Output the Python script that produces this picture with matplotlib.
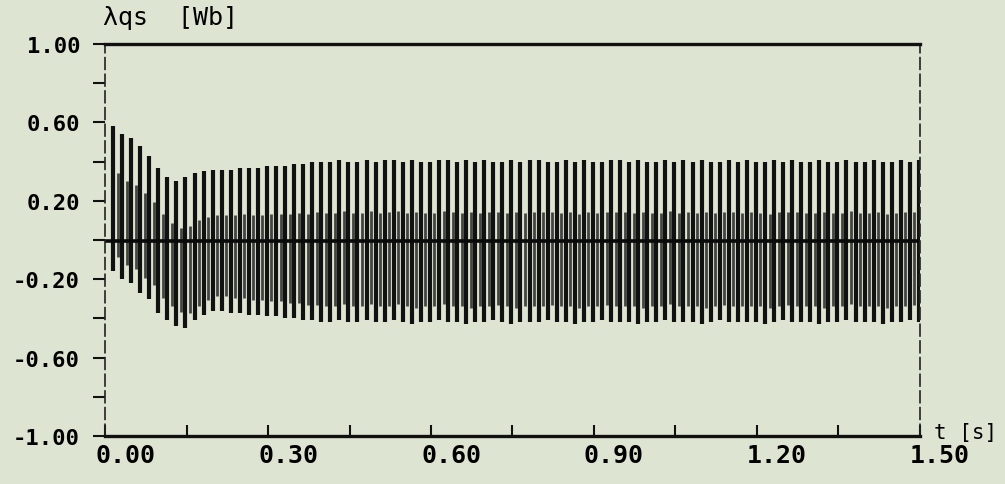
import numpy as np
import matplotlib
matplotlib.use("Agg")
import matplotlib.pyplot as plt
from matplotlib.transforms import ScaledTranslation

# peak values of each 60 Hz cycle
upper_peaks = [
    0.58, 0.54, 0.52, 0.48, 0.43, 0.37, 0.32, 0.30, 0.32, 0.34,
    0.35, 0.36, 0.36, 0.36, 0.37, 0.37, 0.37, 0.38, 0.38, 0.38,
    0.39, 0.39, 0.40, 0.40, 0.40, 0.41, 0.40, 0.40, 0.41, 0.40,
    0.41, 0.41, 0.40, 0.41, 0.40, 0.40, 0.41, 0.41, 0.40, 0.41,
    0.40, 0.41, 0.40, 0.40, 0.41, 0.40, 0.41, 0.41, 0.40, 0.40,
    0.41, 0.40, 0.41, 0.40, 0.40, 0.41, 0.41, 0.40, 0.41, 0.40,
    0.40, 0.41, 0.40, 0.41, 0.40, 0.41, 0.40, 0.40, 0.41, 0.40,
    0.41, 0.40, 0.40, 0.41, 0.40, 0.41, 0.40, 0.40, 0.41, 0.40,
    0.40, 0.41, 0.40, 0.40, 0.41, 0.40, 0.40, 0.41, 0.40, 0.41,
]
lower_peaks = [
    -0.16, -0.20, -0.22, -0.27, -0.30, -0.37, -0.41, -0.44, -0.45, -0.41,
    -0.38, -0.36, -0.36, -0.37, -0.37, -0.38, -0.38, -0.39, -0.39, -0.40,
    -0.40, -0.41, -0.41, -0.42, -0.42, -0.41, -0.42, -0.42, -0.41, -0.42,
    -0.42, -0.41, -0.42, -0.43, -0.42, -0.42, -0.41, -0.42, -0.42, -0.43,
    -0.42, -0.42, -0.41, -0.42, -0.43, -0.42, -0.42, -0.42, -0.41, -0.42,
    -0.42, -0.43, -0.42, -0.42, -0.41, -0.42, -0.42, -0.42, -0.43, -0.42,
    -0.42, -0.41, -0.42, -0.42, -0.42, -0.43, -0.42, -0.41, -0.42, -0.42,
    -0.42, -0.42, -0.43, -0.42, -0.41, -0.42, -0.42, -0.42, -0.43, -0.42,
    -0.42, -0.41, -0.42, -0.42, -0.42, -0.43, -0.42, -0.42, -0.41, -0.42,
]
f_supply = 60.0
t_first = 0.0147

x_ticks = [0.0, 0.30, 0.60, 0.90, 1.20, 1.50]
y_ticks = [1.00, 0.60, 0.20, -0.20, -0.60, -1.00]

bg = "#dde5d2"
mono = "DejaVu Sans Mono"

t = t_first + np.arange(len(upper_peaks)) / f_supply
hi = np.array(upper_peaks)
lo = np.array(lower_peaks)

fig = plt.figure(figsize=(10.05, 4.85), dpi=100, facecolor=bg)
ax = fig.add_axes([0.1045, 0.099, 0.8109, 0.808])
ax.set_facecolor(bg)

# main strokes of each cycle
ax.vlines(t, lo, hi, color="#111111", lw=3.0)
# return strokes: only visible in the middle band as dense texture
span = hi - lo
ax.vlines(t + 0.5 / f_supply, lo + 0.1 * span, hi - 0.32 * span,
          color="#1c1c1c", lw=2.0, alpha=0.8)
ax.axhline(-0.005, xmin=0, xmax=1, color="#0a0a0a", lw=2.6)

ax.set_xlim(0, 1.5)
ax.set_ylim(-1, 1)

for side in ("top", "bottom"):
    ax.spines[side].set_linewidth(2.4)
    ax.spines[side].set_color("#111111")
for side in ("left", "right"):
    ax.spines[side].set_linewidth(1.2)
    ax.spines[side].set_color("#222222")
    ax.spines[side].set_linestyle((0, (7, 3)))

ax.set_xticks(np.arange(0, 1.51, 0.15), minor=True)
ax.set_xticks(x_ticks)
ax.set_xticklabels([f"{v:.2f}" for v in x_ticks], fontfamily=mono,
                   fontweight="bold", fontsize=18)
ax.tick_params(axis="x", which="both", direction="in", length=8,
               width=1.5, pad=5, color="#111111")
offset = ScaledTranslation(0.2, 0, fig.dpi_scale_trans)
for lab in ax.get_xticklabels():
    lab.set_transform(lab.get_transform() + offset)

ax.set_yticks(np.arange(-1, 1.01, 0.2), minor=True)
ax.set_yticks(y_ticks)
ax.set_yticklabels([f"{v:.2f}" for v in y_ticks], fontfamily=mono,
                   fontweight="bold", fontsize=16)
ax.tick_params(axis="y", which="both", direction="out", length=9,
               width=1.5, pad=9, color="#111111")

fig.text(0.102, 0.962, "\u03bbqs  [Wb]", fontfamily=mono, fontsize=18,
         ha="left", va="center")
fig.text(0.929, 0.108, "t [s]", fontfamily=mono, fontsize=15,
         ha="left", va="center")

fig.savefig("out.png", dpi=100, facecolor=bg)
